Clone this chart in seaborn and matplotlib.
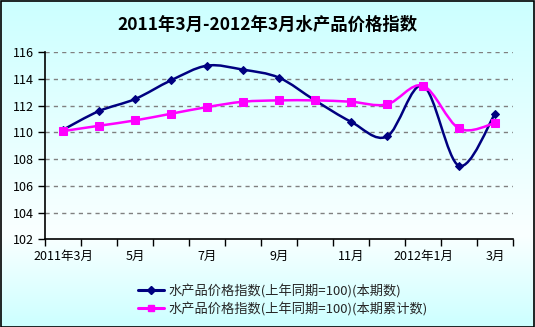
import numpy as np
import pandas as pd
import matplotlib
matplotlib.use("Agg")
import matplotlib.pyplot as plt
import seaborn as sns
from matplotlib.path import Path
from matplotlib.patches import PathPatch, Rectangle
from matplotlib.lines import Line2D

# ---- data ----
months = ["2011年3月", "4月", "5月", "6月", "7月", "8月", "9月", "10月",
          "11月", "12月", "2012年1月", "2月", "3月"]
current_idx = [110.2, 111.6, 112.5, 113.9, 115.0, 114.7, 114.1, 112.4,
               110.8, 109.7, 113.5, 107.5, 111.4]
cumulative_idx = [110.1, 110.5, 110.9, 111.4, 111.9, 112.3, 112.4, 112.4,
                  112.3, 112.1, 113.5, 110.3, 110.7]
shown_labels = ["2011年3月", "5月", "7月", "9月", "11月", "2012年1月", "3月"]
series_names = ["水产品价格指数(上年同期=100)(本期数)",
                "水产品价格指数(上年同期=100)(本期累计数)"]
title = "2011年3月-2012年3月水产品价格指数"

sns.set_theme(style="white")
plt.rcParams['font.family'] = ['Noto Sans CJK SC', 'DejaVu Sans']
plt.rcParams['axes.unicode_minus'] = False

W, H = 535, 327
fig = plt.figure(figsize=(W / 100, H / 100), dpi=100)

# background gradient
bg = fig.add_axes([0, 0, 1, 1], zorder=-10)
t = np.linspace(0, 1, 300)
top = np.array([204, 255, 255]) / 255
mid = np.array([250, 255, 255]) / 255
prof = np.where(t[:, None] < 0.72,
                top + (mid - top) * (t[:, None] / 0.72),
                mid + (top - mid) * ((t[:, None] - 0.72) / 0.28))
img = np.repeat(prof[:, None, :], 2, axis=1)
bg.imshow(img, aspect='auto', extent=[0, 1, 0, 1])
bg.set_axis_off()
fig.patches.append(Rectangle((0.001, 0.001), 0.997, 0.996, transform=fig.transFigure,
                             fill=False, edgecolor='black', lw=1.2))

ax = fig.add_axes([45 / W, 1 - 239.3 / H, (513 - 45) / W, (239.3 - 52.3) / H])
ax.set_facecolor('none')

df = pd.DataFrame({"month": months, "x": np.arange(len(months)),
                   "cur": current_idx, "cum": cumulative_idx})

colors = ["#000080", "#FF00FF"]
markers = ["D", "s"]
msizes = [4.5, 6]


def smooth_path(x, y, tension=1 / 6):
    pts = np.column_stack([x, y]).astype(float)
    n = len(pts)
    verts = [pts[0]]
    codes = [Path.MOVETO]
    for i in range(n - 1):
        p0 = pts[i - 1] if i > 0 else pts[i]
        p1 = pts[i]
        p2 = pts[i + 1]
        p3 = pts[i + 2] if i + 2 < n else pts[i + 1]
        c1 = p1 + (p2 - p0) * tension
        c2 = p2 - (p3 - p1) * tension
        verts += [c1, c2, p2]
        codes += [Path.CURVE4] * 3
    return Path(verts, codes)


for col, c, m, ms in [("cur", colors[0], markers[0], msizes[0]),
                      ("cum", colors[1], markers[1], msizes[1])]:
    ax.add_patch(PathPatch(smooth_path(df["x"], df[col]), fill=False,
                           edgecolor=c, lw=1.8, zorder=3, capstyle='round'))
    sns.lineplot(data=df, x="x", y=col, ax=ax, color=c, lw=0, marker=m,
                 markersize=ms, markeredgecolor=c, zorder=4, legend=False)

ax.set_xlim(-0.5, len(months) - 0.5)
ax.set_ylim(102, 116)
ax.set_yticks(np.arange(102, 117, 2))
ax.set_yticklabels([str(v) for v in range(102, 117, 2)])
ax.set_xticks(np.arange(-0.5, len(months), 1), minor=True)
ax.set_xticks([months.index(l) for l in shown_labels])
ax.set_xticklabels(shown_labels)
ax.tick_params(axis='x', which='major', length=0, pad=8, labelsize=9, colors='black')
ax.tick_params(axis='x', which='minor', length=5, width=1, direction='out', color='black', bottom=True)
ax.tick_params(axis='y', length=5, width=1, direction='out', color='black', left=True,
               labelsize=9, pad=3, colors='black')
ax.set_xlabel("")
ax.set_ylabel("")
for s in ["top", "right"]:
    ax.spines[s].set_visible(False)
for s in ["left", "bottom"]:
    ax.spines[s].set_color("black")
    ax.spines[s].set_linewidth(1.2)
ax.grid(False)
for v in range(104, 117, 2):
    ax.axhline(v, color="#808080", lw=1, ls=(0, (3, 3)), zorder=1)

fig.text(0.5, 1 - 25 / H, title, ha='center', va='center', fontsize=12.5,
         fontweight='bold', color='black')

handles = [Line2D([], [], color=colors[i], lw=2.2, marker=markers[i],
                  markersize=[4, 5][i], markeredgecolor=colors[i]) for i in range(2)]
fig.legend(handles, series_names, loc='upper left',
           bbox_to_anchor=(138 / W, 1 - 284 / H), frameon=False, fontsize=9.5,
           handlelength=2.0, handletextpad=0.3, labelspacing=0.3, borderaxespad=0,
           borderpad=0)

fig.savefig("out.png", dpi=100)
